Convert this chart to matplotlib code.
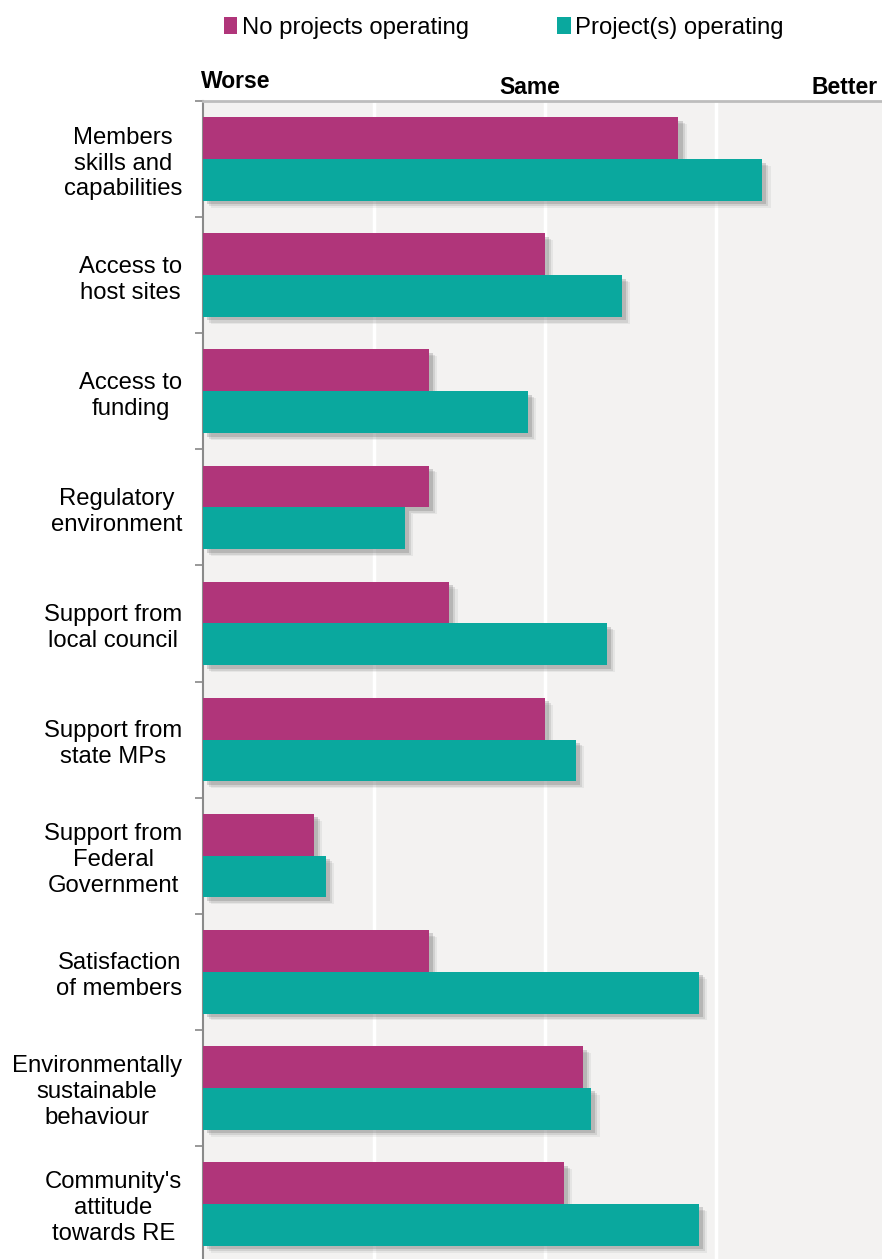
import matplotlib.pyplot as plt
import matplotlib.patheffects as pe
from matplotlib.patches import Patch
import numpy as np

plt.rcParams['font.family'] = ['Liberation Sans', 'DejaVu Sans']

# Ratings on a 1 (worse) .. 3 (same) .. 5 (better) scale
categories = [
    "Members\nskills and\ncapabilities",
    "Access to\nhost sites",
    "Access to\nfunding",
    "Regulatory\nenvironment",
    "Support from\nlocal council",
    "Support from\nstate MPs",
    "Support from\nFederal\nGovernment",
    "Satisfaction\nof members",
    "Environmentally\nsustainable\nbehaviour",
    "Community's\nattitude\ntowards RE",
]
no_projects = [3.78, 3.0, 2.32, 2.32, 2.44, 3.0, 1.65, 2.32, 3.22, 3.11]
with_projects = [4.27, 3.45, 2.90, 2.18, 3.36, 3.18, 1.72, 3.90, 3.27, 3.90]
series_names = ["No projects operating", "Project(s) operating"]
pink = "#B0357A"
teal = "#0AA89E"

W, H = 882, 1259
fig = plt.figure(figsize=(W / 100, H / 100), dpi=100)
ax = fig.add_axes([203 / W, 1 - 1262 / H, 1 - 203 / W, 1161 / H])
ax.set_facecolor("#F3F2F1")

y = np.arange(len(categories))
bh = 0.36
# soft drop shadow: a few offset layers fading out
shadow = [pe.SimplePatchShadow(offset=(6, -5), shadow_rgbFace="#888888", alpha=0.12),
          pe.SimplePatchShadow(offset=(4.5, -4), shadow_rgbFace="#777777", alpha=0.18),
          pe.SimplePatchShadow(offset=(3, -2.5), shadow_rgbFace="#666666", alpha=0.25),
          pe.Normal()]
b1 = ax.barh(y - bh / 2, [v - 1 for v in no_projects], left=1, height=bh,
             color=pink, zorder=3)
b2 = ax.barh(y + bh / 2, [v - 1 for v in with_projects], left=1, height=bh,
             color=teal, zorder=3)
for bar in list(b1) + list(b2):
    bar.set_path_effects(shadow)

ax.set_xlim(1, 1 + (W - 203) / 171)
ax.set_ylim(len(categories) - 0.5, -0.5)

for gx in [2, 3, 4]:
    ax.axvline(gx, color="white", lw=2.5, zorder=1)

ax.set_xticks([])
ax.set_yticks(y)
ax.set_yticklabels(categories, fontsize=17.2, multialignment="center", linespacing=1.23)
ax.tick_params(axis="y", which="major", length=0, pad=15)
ax.set_yticks(np.arange(-0.5, len(categories), 1), minor=True)
ax.tick_params(axis="y", which="minor", length=6, width=1.2, color="#888888", direction="out")

for side in ["right", "bottom"]:
    ax.spines[side].set_visible(False)
ax.spines["left"].set_color("#8a8a8a")
ax.spines["left"].set_linewidth(1.5)
ax.spines["top"].set_color("#bdbdbd")
ax.spines["top"].set_linewidth(2)

# Scale headings above the plot
fig.text(201 / W, 1 - 82 / H, "Worse", fontsize=16.5, fontweight="bold", ha="left", va="center")
fig.text(530 / W, 1 - 87 / H, "Same", fontsize=16.5, fontweight="bold", ha="center", va="center")
fig.text(878 / W, 1 - 87 / H, "Better", fontsize=16.5, fontweight="bold", ha="right", va="center")

handles = [Patch(facecolor=pink), Patch(facecolor=teal)]
fig.legend(handles, series_names, loc="center", bbox_to_anchor=(504 / W, 1 - 28 / H),
           ncol=2, frameon=False, fontsize=17.2, handlelength=0.55, handleheight=0.7,
           handletextpad=0.2, columnspacing=3.7)

fig.savefig("out.png", dpi=100)
